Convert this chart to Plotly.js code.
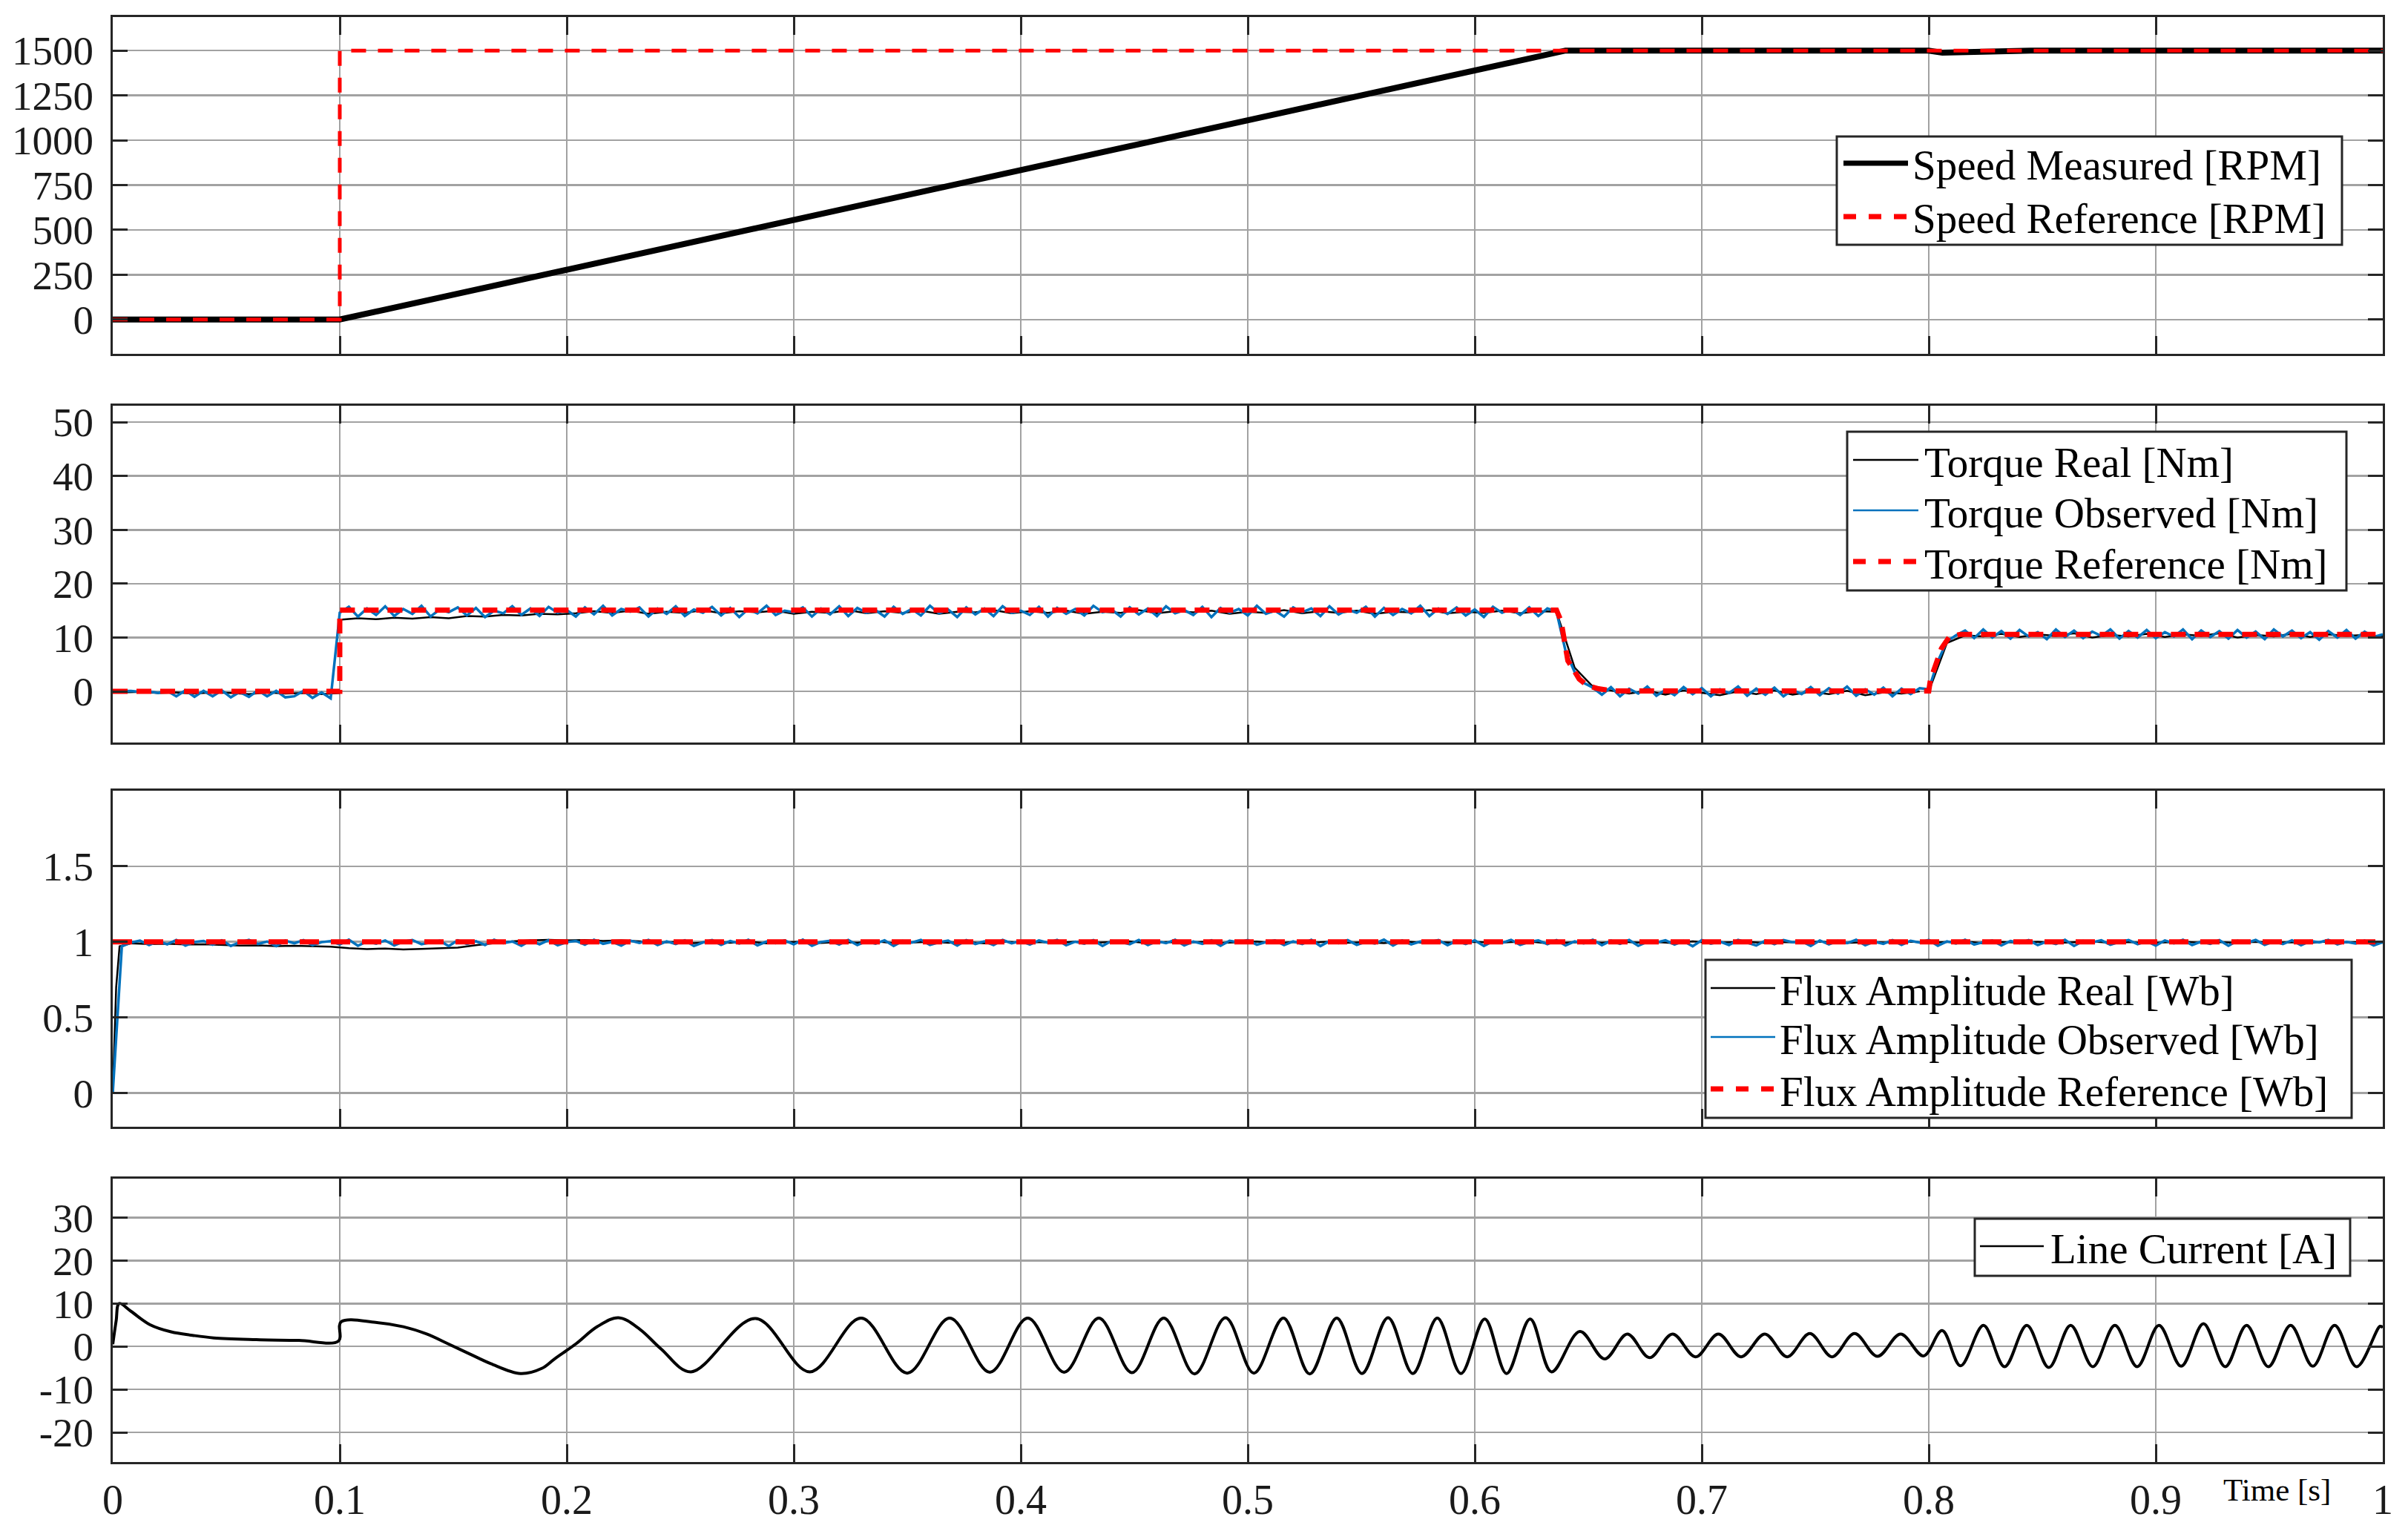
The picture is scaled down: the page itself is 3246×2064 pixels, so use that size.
<!DOCTYPE html>
<html><head><meta charset="utf-8">
<script src="https://cdn.plot.ly/plotly-3.0.1.min.js"></script>
<style>html,body{margin:0;padding:0;background:#fff;} #chart{width:3246px;height:2064px;}</style>
</head><body><div id="chart"></div>
<script>
// ---------------- DATA ----------------
// Panel 1: speed [RPM]
var speedMeasT = [0, 0.1, 0.64, 0.80, 0.806, 0.83, 0.845, 1.0];
var speedMeas  = [0, 0, 1500, 1500, 1488, 1492, 1500, 1500];
var speedRefT  = [0, 0.1, 0.1, 1.0];
var speedRef   = [0, 0, 1500, 1500];

// Panel 2: torque [Nm]
var torqueRefT = [0, 0.1, 0.1, 0.636, 0.638, 0.6395, 0.641, 0.643, 0.646, 0.6495, 0.6545, 0.661, 0.8, 0.8007, 0.8032, 0.8056, 0.809, 0.814, 1.0];
var torqueRef  = [0, 0, 15.1, 15.1, 13.1, 9.0, 5.7, 4.4, 2.3, 1.1, 0.5, 0.1, 0.1, 2.1, 5.5, 8.0, 10.1, 10.6, 10.6];
// observed torque, sampled every 4 ms from t = 0
var torqueObsStep = 0.004;
var torqueObs = [
 0, 0, 0.1, -0.1, 0, -0.3, 0.1, -0.9, 0.2, -1.0, 0.1, -0.9, 0.2, -1.1, -0.1, -1.0, 0.2, -0.9, 0.1, -1.1, -0.9, 0.1, -1.2, -0.2, -1.3,
 14.6, 15.7, 13.9, 15.4, 14.2, 15.8, 14.0, 15.3, 14.4, 15.9,
 13.9, 15.2, 14.7, 15.6, 14.1, 15.5, 13.8, 15.0, 14.5, 15.8,
 14.2, 15.4, 14.0, 15.7, 14.6, 15.1, 13.9, 15.6, 14.3, 15.9,
 14.1, 15.3, 14.8, 15.6, 13.9, 15.4, 14.4, 15.8, 14.0, 15.2,
 14.6, 15.7, 14.1, 15.5, 13.8, 15.3, 14.5, 15.9, 14.2, 15.0,
 14.7, 15.6, 13.9, 15.4, 14.3, 15.8, 14.0, 15.5, 14.6, 15.1,
 13.9, 15.7, 14.4, 15.3, 14.1, 15.9, 14.5, 15.2, 13.8, 15.6,
 14.3, 15.4, 14.0, 15.8, 14.6, 15.0, 14.2, 15.7, 13.9, 15.5,
 14.4, 15.3, 14.1, 15.9, 14.7, 15.2, 13.9, 15.6, 14.3, 15.4,
 14.0, 15.8, 14.5, 15.1, 14.2, 15.7, 13.8, 15.5, 14.6, 15.3,
 14.1, 15.9, 14.4, 15.0, 13.9, 15.6, 14.7, 15.4, 14.0, 15.8,
 14.3, 15.2, 14.6, 15.7, 13.9, 15.5, 14.2, 15.3, 14.5, 15.9,
 14.0, 15.4, 14.4, 15.6, 14.1, 15.2, 13.8, 15.7, 14.6, 15.3,
 14.2, 15.6, 14.0, 15.4, 14.8,
 7.5, 3.6, 1.6, 0.7,
 -0.6, 0.8, -0.9, 0.5, -0.4, 0.9, -0.8, 0.3, -0.7, 0.8,
 -0.5, 0.6, -0.9, 0.4, -0.3, 0.9, -0.8, 0.5, -0.6, 0.7,
 -0.9, 0.3, -0.5, 0.8, -0.7, 0.6, -0.4, 0.9, -0.8, 0.4,
 -0.6, 0.7, -0.9, 0.5, -0.5, 0.6,
 0.4, 5.6, 9.3, 10.4,
 11.3, 9.9, 11.5, 10.0, 11.2, 9.8, 11.4, 10.2, 11.0, 9.7,
 11.5, 10.1, 11.3, 9.9, 11.1, 10.3, 11.5, 9.8, 11.2, 10.0,
 11.4, 9.9, 11.0, 10.2, 11.5, 9.7, 11.3, 10.1, 11.2, 9.8,
 11.4, 10.0, 11.1, 9.7, 11.5, 10.2, 11.3, 9.9, 11.0, 9.6,
 11.2, 10.0, 11.4, 9.8, 11.1, 10.1, 10.6
];
// real torque in three segments, each sampled every 8 ms
var torqueRealStep = 0.008;
var torqueRealA0 = 0.004;   // t = 0.004 ... 0.100
var torqueRealA = [-0.2, -0.1, -0.3, -0.2, -0.4, -0.2, -0.3, -0.5, -0.2, -0.4, -0.3, -0.5, -0.3];
var torqueRealB0 = 0.1;     // t = 0.100 ... 0.796
var torqueRealB = [
 13.3, 13.6, 13.4, 13.7, 13.5, 13.8, 13.6, 14.0, 13.9, 14.2, 14.1, 14.4, 14.3,
 14.5, 14.9, 14.6, 15.0, 14.4, 14.8, 14.6, 15.1, 14.5, 14.9,
 14.7, 15.0, 14.4, 14.8, 14.6, 15.1, 14.5, 14.9, 14.6, 15.0,
 14.4, 14.8, 14.7, 15.1, 14.5, 14.9, 14.6, 15.0, 14.4, 14.8,
 14.6, 15.1, 14.5, 14.9, 14.7, 15.0, 14.4, 14.8, 14.6, 15.1,
 14.5, 14.9, 14.6, 15.0, 14.4, 14.8, 14.7, 15.1, 14.5, 14.8,
 14.6, 15.0, 14.5, 14.9, 14.8,
 4.4, 0.9, 0.2,
 -0.4, 0.1, -0.6, 0.2, -0.3, -0.7, 0.0, -0.5, 0.2, -0.6, -0.1, -0.5, 0.1, -0.7, -0.2, -0.4, 0.0
];
var torqueRealC0 = 0.8;     // t = 0.800 ... 1.000
var torqueRealC = [
 0.0, 9.0, 10.4,
 10.2, 10.7, 10.1, 10.6, 10.3, 10.8, 10.0, 10.5, 10.2, 10.7, 10.1, 10.6, 10.3, 10.8, 10.0, 10.5, 10.2, 10.7, 10.1, 10.6, 10.3, 10.5, 10.2
];

// Panel 3: flux amplitude [Wb]
var fluxRefT = [0, 1];
var fluxRef  = [1, 1];
var fluxObsStep = 0.004;
var fluxObs = [
 0,
 0.97, 0.995, 1.008, 0.978, 1.004, 0.983, 1.012, 0.975, 0.999, 1.006,
 0.981, 1.01, 0.973, 0.996, 1.013, 0.985, 1.002, 0.971, 1.008, 0.99,
 1.011, 0.977, 0.998, 1.005, 0.982, 1.014, 0.974, 1.003, 0.988, 1.009,
 0.976, 1.001, 1.012, 0.984, 0.997, 1.007, 0.972, 1.01, 0.986, 1.004,
 0.979, 1.013, 0.991, 1.002, 0.974, 1.009, 0.983, 1.011, 0.977, 0.998,
 1.006, 0.981, 1.014, 0.987, 1.0, 0.975, 1.008, 0.993, 1.012, 0.978,
 1.003, 0.985, 1.01, 0.972, 0.996, 1.011, 0.98, 1.005, 0.989, 1.013,
 0.976, 1.002, 0.991, 1.009, 0.983, 1.014, 0.974, 0.999, 1.007, 0.982,
 1.012, 0.978, 1.004, 0.988, 1.01, 0.973, 1.006, 0.995, 1.013, 0.98,
 0.997, 1.008, 0.975, 1.011, 0.986, 1.003, 0.979, 1.012, 0.99, 1.005,
 0.982, 1.009, 0.994, 1.013, 0.977, 1.001, 0.988, 1.011, 0.973, 1.006,
 0.999, 0.984, 1.012, 0.979, 1.004, 0.991, 1.014, 0.976, 1.002, 0.987,
 1.01, 0.974, 1.007, 0.996, 1.012, 0.981, 0.998, 1.009, 0.978, 1.003,
 0.985, 1.013, 0.972, 1.005, 0.992, 1.011, 0.98, 1.001, 0.989, 1.014,
 0.975, 1.008, 0.983, 1.002, 0.997, 1.012, 0.977, 1.006, 0.986, 1.01,
 0.973, 1.004, 0.993, 1.013, 0.98, 0.999, 1.009, 0.984, 1.011, 0.976,
 1.003, 0.99, 1.014, 0.978, 1.007, 0.987, 1.012, 0.974, 1.0, 0.995,
 1.01, 0.982, 1.005, 0.971, 1.011, 0.988, 1.002, 0.979, 1.013, 0.994,
 0.976, 1.008, 0.985, 1.012, 0.997, 1.004, 0.973, 1.009, 0.983, 1.006,
 0.991, 1.013, 0.977, 1.001, 0.987, 1.011, 0.98, 1.007, 0.995, 1.012,
 0.974, 1.003, 0.989, 1.014, 0.982, 0.998, 1.008, 0.976, 1.005, 0.992,
 1.011, 0.978, 1.002, 0.986, 1.013, 0.973, 1.006, 0.996, 1.01, 0.981,
 0.999, 1.012, 0.984, 1.004, 0.975, 1.009, 0.99, 1.013, 0.979, 1.002,
 0.987, 1.011, 0.974, 1.007, 0.993, 1.012, 0.98, 1.003, 0.985, 1.01,
 0.977, 1.005, 0.996, 1.013, 0.983, 1.0, 0.989, 1.008, 0.976, 0.998
];
// real flux: fast start-up, then samples every 8 ms from t = 0.008
var fluxRealStartT = [0, 0.0015, 0.003, 0.008];
var fluxRealStart  = [0, 0.7, 0.97, 0.99];
var fluxRealStep = 0.008;
var fluxReal0 = 0.008;
var fluxReal = [
 0.99, 0.985, 0.988, 0.982, 0.984,
 0.978, 0.975, 0.977, 0.972, 0.974, 0.97, 0.968,
 0.958, 0.952, 0.956, 0.949, 0.953, 0.957, 0.962,
 0.978, 0.992, 1.004, 1.01, 1.013, 1.009, 1.012, 1.006, 1.009, 1.003,
 0.994, 1.0, 0.991, 0.998, 0.993, 1.002, 0.99, 0.997, 1.001, 0.992,
 0.999, 0.993, 1.003, 0.991, 0.996, 1.0, 0.994, 0.998, 0.99, 1.002,
 0.995, 0.999, 0.992, 1.001, 0.993, 0.997, 1.003, 0.991, 0.998, 0.994,
 1.0, 0.992, 0.996, 1.002, 0.99, 0.999, 0.994, 1.001, 0.993, 0.997,
 0.991, 1.003, 0.995, 0.998, 0.992, 1.0, 0.994, 0.997, 1.002, 0.99,
 0.996, 0.999, 0.993, 1.001, 0.995, 0.998, 0.991, 1.003, 0.994, 0.997,
 1.0, 0.992, 0.998, 0.995, 1.002, 0.991, 0.996, 0.999, 0.993, 1.001,
 0.994, 0.997, 1.003, 0.99, 0.998, 0.995, 1.0, 0.992, 0.996, 1.002,
 0.993, 0.999, 0.991, 0.997, 1.001, 0.994, 0.998, 0.992, 1.0, 0.995,
 0.997, 0.993, 1.002, 0.996, 0.999, 0.994
];

// Panel 4: line current [A] (extremes and shape points)
var currentT = [0, 0.0015, 0.0028, 0.008, 0.0163, 0.0257, 0.0351, 0.0445, 0.0633, 0.082, 0.0995,
 0.1005, 0.1158, 0.128, 0.1383, 0.1478, 0.1571, 0.1665, 0.1796, 0.189, 0.1946, 0.204, 0.2134, 0.2228, 0.2322, 0.2416,
 0.2547, 0.2831, 0.3071, 0.3297, 0.3500, 0.3687, 0.3864, 0.4031, 0.4191, 0.4344, 0.4490, 0.4630, 0.4766, 0.4902,
 0.5027, 0.5157, 0.5273, 0.5392, 0.5503, 0.5618, 0.5727, 0.5835, 0.5939, 0.6044, 0.6140, 0.6244, 0.6338,
 0.6463, 0.6572, 0.6672, 0.6770, 0.6871, 0.6973, 0.7073, 0.7173, 0.7278, 0.7376, 0.7476, 0.7574, 0.7673, 0.7774, 0.7876, 0.7977,
 0.8059, 0.8140, 0.8241, 0.8334, 0.8432, 0.8529, 0.8625, 0.8723, 0.8820, 0.8918, 0.9014, 0.9112, 0.9210, 0.9306,
 0.9400, 0.9496, 0.9594, 0.9692, 0.9788, 0.9885, 0.9988, 1.0];
var currentA = [0.5, 6, 10, 8.2, 5.1, 3.4, 2.6, 2.0, 1.6, 1.4, 1.3,
 5.7, 5.6, 4.6, 2.9, 0.6, -1.7, -4.0, -6.3, -5.1, -2.9, 0.6, 4.6, 6.7, 4.0, -0.6,
 -5.9, 6.5, -5.9, 6.6, -6.2, 6.6, -6.0, 6.6, -6.0, 6.6, -6.1, 6.6, -6.4, 6.7,
 -6.2, 6.6, -6.4, 6.6, -6.3, 6.7, -6.3, 6.6, -6.3, 6.4, -6.3, 6.4, -5.9,
 3.5, -2.9, 2.9, -2.6, 2.9, -2.4, 2.9, -2.4, 2.9, -2.4, 3.0, -2.4, 3.0, -2.3, 2.9, -2.2,
 3.7, -4.5, 4.9, -4.7, 4.9, -4.9, 4.9, -4.7, 4.9, -4.7, 4.9, -4.6, 5.3, -4.7,
 4.9, -4.7, 4.9, -4.6, 4.9, -4.7, 4.7, 4.4];

// Tick values / labels
var timeTicks = [0, 0.1, 0.2, 0.3, 0.4, 0.5, 0.6, 0.7, 0.8, 0.9, 1];
var timeTickText = ['0', '0.1', '0.2', '0.3', '0.4', '0.5', '0.6', '0.7', '0.8', '0.9', '1'];
var speedTicks = [0, 250, 500, 750, 1000, 1250, 1500];
var torqueTicks = [0, 10, 20, 30, 40, 50];
var fluxTicks = [0, 0.5, 1, 1.5];
var fluxTickText = ['0', '0.5', '1', '1.5'];
var currentTicks = [-20, -10, 0, 10, 20, 30];
var currentTickText = ['-20', '-10', '0', '10', '20', '30'];

// Legend labels
var legendSpeed = ['Speed Measured [RPM]', 'Speed Reference [RPM]'];
var legendTorque = ['Torque Real [Nm]', 'Torque Observed [Nm]', 'Torque Reference [Nm]'];
var legendFlux = ['Flux Amplitude Real [Wb]', 'Flux Amplitude Observed [Wb]', 'Flux Amplitude Reference [Wb]'];
var legendCurrent = ['Line Current [A]'];
var timeLabel = 'Time [s]';

// ---------------- STYLE ----------------
var FONT = 'Liberation Serif, Times New Roman, serif';
var BLACK = '#000000', BLUE = '#0072BD', RED = '#FF0000', AXC = '#262626', GRID = '#a2a2a2';

var realStyle = {color: BLACK, width: 2.5};
var obsStyle = {color: BLUE, width: 3.5};
var traces = [
  {x: speedMeasT, y: speedMeas, xaxis: 'x', yaxis: 'y', mode: 'lines', line: {color: BLACK, width: 8}},
  {x: speedRefT, y: speedRef, xaxis: 'x', yaxis: 'y', mode: 'lines', line: {color: RED, width: 5, dash: '20px,16px'}},
  {x0: torqueRealA0, dx: torqueRealStep, y: torqueRealA, xaxis: 'x2', yaxis: 'y2', mode: 'lines', line: realStyle},
  {x0: torqueRealB0, dx: torqueRealStep, y: torqueRealB, xaxis: 'x2', yaxis: 'y2', mode: 'lines', line: realStyle},
  {x0: torqueRealC0, dx: torqueRealStep, y: torqueRealC, xaxis: 'x2', yaxis: 'y2', mode: 'lines', line: realStyle},
  {x0: 0, dx: torqueObsStep, y: torqueObs, xaxis: 'x2', yaxis: 'y2', mode: 'lines', line: obsStyle},
  {x: torqueRefT, y: torqueRef, xaxis: 'x2', yaxis: 'y2', mode: 'lines', line: {color: RED, width: 7, dash: '20px,12px'}},
  {x: fluxRealStartT, y: fluxRealStart, xaxis: 'x3', yaxis: 'y3', mode: 'lines', line: realStyle},
  {x0: fluxReal0, dx: fluxRealStep, y: fluxReal, xaxis: 'x3', yaxis: 'y3', mode: 'lines', line: realStyle},
  {x0: 0, dx: fluxObsStep, y: fluxObs, xaxis: 'x3', yaxis: 'y3', mode: 'lines', line: obsStyle},
  {x: fluxRefT, y: fluxRef, xaxis: 'x3', yaxis: 'y3', mode: 'lines', line: {color: RED, width: 7, dash: '26px,16px'}},
  {x: currentT, y: currentA, xaxis: 'x4', yaxis: 'y4', mode: 'lines', line: {color: BLACK, width: 4, shape: 'spline', smoothing: 1}}
];

function xAxis(anchor, showLabels) {
  return {
    anchor: anchor, range: [0, 1], tickvals: timeTicks, ticktext: timeTickText,
    showticklabels: showLabels, ticks: 'inside', ticklen: 24, tickwidth: 3, tickcolor: AXC,
    showline: true, linecolor: AXC, linewidth: 3, mirror: 'ticks',
    showgrid: true, gridcolor: GRID, gridwidth: 2.5, zeroline: false,
    tickfont: {family: FONT, size: 56, color: '#1a1a1a'}, ticklabelstandoff: 0, fixedrange: true
  };
}
function yAxis(anchor, domain, range, vals, text) {
  var a = {
    anchor: anchor, domain: domain, range: range, tickvals: vals,
    ticks: 'inside', ticklen: 20, tickwidth: 3, tickcolor: AXC,
    showline: true, linecolor: AXC, linewidth: 3, mirror: 'ticks',
    showgrid: true, gridcolor: GRID, gridwidth: 2.5, zeroline: false,
    tickfont: {family: FONT, size: 55, color: '#1a1a1a'}, ticklabelstandoff: 12, fixedrange: true
  };
  if (text) a.ticktext = text;
  return a;
}

// pixel -> paper helpers (plot area: x 152..3212, y 23..1971)
var L = 152, R = 34, T = 23, B = 93, W = 3246, H = 2064;
function px(X) { return (X - L) / (W - L - R); }
function py(Y) { return (H - B - Y) / (H - T - B); }

var shapes = [], annotations = [];
function addLegend(box, rows, sampleX, textX, labels, styles) {
  shapes.push({type: 'rect', xref: 'paper', yref: 'paper', x0: px(box[0]), x1: px(box[2]), y0: py(box[3]), y1: py(box[1]),
    line: {color: AXC, width: 3}, fillcolor: '#ffffff', layer: 'above'});
  for (var i = 0; i < labels.length; i++) {
    shapes.push({type: 'line', xref: 'paper', yref: 'paper', x0: px(sampleX[0]), x1: px(sampleX[1]), y0: py(rows[i]), y1: py(rows[i]),
      line: styles[i], layer: 'above'});
    annotations.push({xref: 'paper', yref: 'paper', x: px(textX), y: py(rows[i] + 3), xanchor: 'left', yanchor: 'middle',
      text: labels[i], showarrow: false, font: {family: FONT, size: 57, color: '#000'}});
  }
}
var thinBlack = {color: BLACK, width: 2.5}, thinBlue = {color: BLUE, width: 2.5}, redDash = {color: RED, width: 7, dash: '17px,17px'};
addLegend([2476, 184, 3157, 330], [220, 292], [2485, 2572], 2576, legendSpeed, [{color: BLACK, width: 7}, redDash]);
addLegend([2490, 582, 3163, 796], [620, 688, 757], [2498, 2586], 2592, legendTorque, [thinBlack, thinBlue, redDash]);
addLegend([2299, 1294, 3170, 1507], [1332, 1398, 1468], [2306, 2393], 2397, legendFlux, [thinBlack, thinBlue, redDash]);
addLegend([2662, 1643, 3168, 1720], [1680], [2669, 2755], 2762, legendCurrent, [thinBlack]);

annotations.push({xref: 'paper', yref: 'paper', x: px(2995), y: py(2008), xanchor: 'left', yanchor: 'middle',
  text: timeLabel, showarrow: false, font: {family: FONT, size: 43, color: '#000'}});

var layout = {
  width: W, height: H, margin: {l: L, r: R, t: T, b: B, pad: 0},
  paper_bgcolor: '#ffffff', plot_bgcolor: '#ffffff', showlegend: false,
  font: {family: FONT, color: '#000'},
  xaxis: xAxis('y', false), xaxis2: xAxis('y2', false), xaxis3: xAxis('y3', false), xaxis4: xAxis('y4', true),
  yaxis: yAxis('x', [0.7671, 1], [-190, 1687], speedTicks),
  yaxis2: yAxis('x2', [0.4979, 0.7312], [-9.5, 53.1], torqueTicks),
  yaxis3: yAxis('x3', [0.2319, 0.4646], [-0.225, 2.0], fluxTicks, fluxTickText),
  yaxis4: yAxis('x4', [0, 0.1959], [-26.9, 39.0], currentTicks, currentTickText),
  shapes: shapes, annotations: annotations
};

Plotly.newPlot('chart', traces, layout, {staticPlot: true, displayModeBar: false});
</script></body></html>
